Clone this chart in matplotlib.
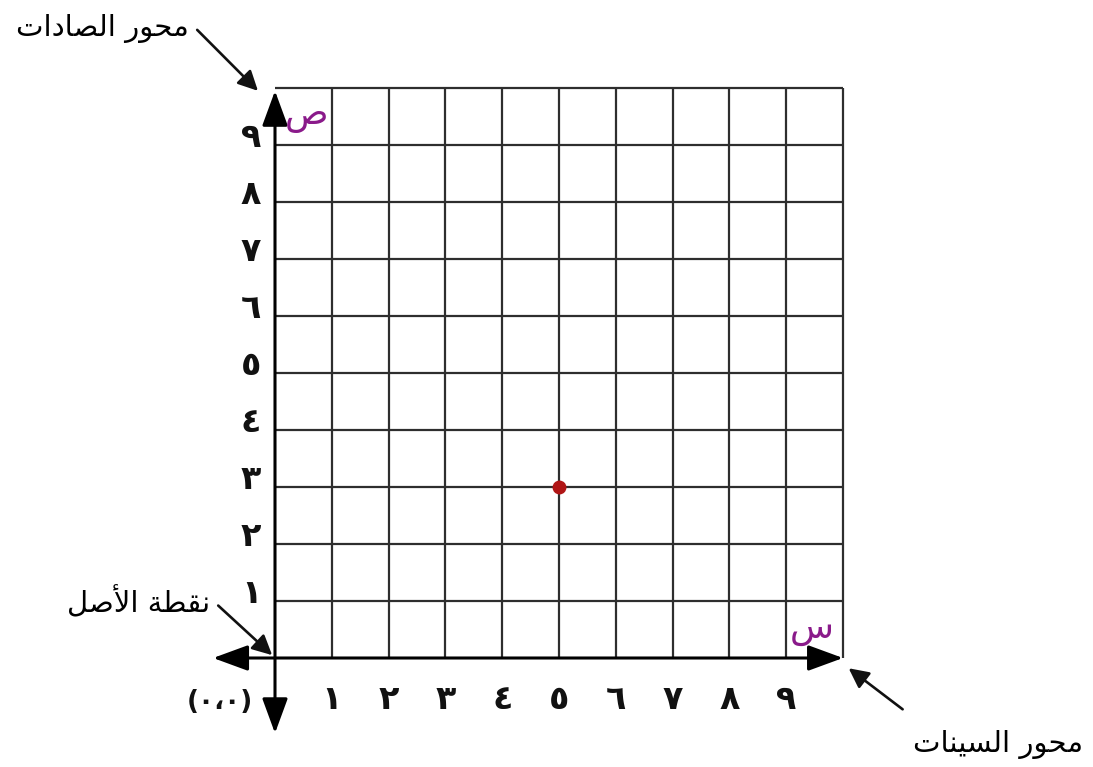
"""
Coordinate grid with the point (5, 3)
"""
import matplotlib
matplotlib.use('Agg')
import matplotlib.pyplot as plt
from matplotlib.patches import ArrowStyle

# grid size and tick labels (Eastern Arabic digits)
n_cells = 10
x_ticks = [1, 2, 3, 4, 5, 6, 7, 8, 9]
y_ticks = [1, 2, 3, 4, 5, 6, 7, 8, 9]
digit_labels = ['١', '٢', '٣', '٤', '٥', '٦', '٧', '٨', '٩']
origin_label = '(٠،٠)'

# the plotted point
point_x = [5]
point_y = [3]

# annotations
y_axis_name = 'محور الصادات'
x_axis_name = 'محور السينات'
origin_name = 'نقطة الأصل'
y_letter = 'ص'
x_letter = 'س'

# presentation forms: isolated, final, (initial, medial)
FORMS = {
    'ا': (0xFE8D, 0xFE8E), 'أ': (0xFE83, 0xFE84), 'ة': (0xFE93, 0xFE94),
    'د': (0xFEA9, 0xFEAA), 'ر': (0xFEAD, 0xFEAE), 'و': (0xFEED, 0xFEEE),
    'ت': (0xFE95, 0xFE96, 0xFE97, 0xFE98), 'ح': (0xFEA1, 0xFEA2, 0xFEA3, 0xFEA4),
    'س': (0xFEB1, 0xFEB2, 0xFEB3, 0xFEB4), 'ص': (0xFEB9, 0xFEBA, 0xFEBB, 0xFEBC),
    'ط': (0xFEC1, 0xFEC2, 0xFEC3, 0xFEC4), 'ق': (0xFED5, 0xFED6, 0xFED7, 0xFED8),
    'ل': (0xFEDD, 0xFEDE, 0xFEDF, 0xFEE0), 'م': (0xFEE1, 0xFEE2, 0xFEE3, 0xFEE4),
    'ن': (0xFEE5, 0xFEE6, 0xFEE7, 0xFEE8), 'ي': (0xFEF1, 0xFEF2, 0xFEF3, 0xFEF4),
}
LAM_ALEF = {'ا': (0xFEFB, 0xFEFC), 'أ': (0xFEF7, 0xFEF8)}


def shape(text):
    # matplotlib has no arabic shaping, so join the letters by hand
    # and flip to visual order
    out = []
    prev_joins = False
    i = 0
    while i < len(text):
        ch = text[i]
        if ch == 'ل' and i + 1 < len(text) and text[i + 1] in LAM_ALEF:
            iso, fin = LAM_ALEF[text[i + 1]]
            out.append(chr(fin if prev_joins else iso))
            prev_joins = False
            i += 2
            continue
        forms = FORMS.get(ch)
        if forms is None:
            out.append(ch)
            prev_joins = False
            i += 1
            continue
        nxt = text[i + 1] if i + 1 < len(text) else ''
        next_ok = len(forms) == 4 and nxt in FORMS
        if prev_joins and next_ok:
            g = forms[3]
        elif prev_joins:
            g = forms[1]
        elif next_ok:
            g = forms[2]
        else:
            g = forms[0]
        out.append(chr(g))
        prev_joins = next_ok
        i += 1
    return ''.join(reversed(out))


plt.rcParams['font.family'] = ['DejaVu Sans']

fig = plt.figure(figsize=(10.93, 7.67), dpi=100)
ax = fig.add_axes([0, 0, 1, 1])
# pixel layout: x 0..10 -> 275..843 px, y 0..10 -> 658..88 px
sx, sy = 56.8, 57.0
ax.set_xlim(-275 / sx, (1093 - 275) / sx)
ax.set_ylim(-(767 - 658) / sy, 658 / sy)
ax.axis('off')

grid_color = '#2e2e2e'
cells = list(range(1, n_cells + 1))
ax.vlines(cells, 0, n_cells, color=grid_color, lw=1.6, zorder=1)
ax.hlines(cells, 0, n_cells, color=grid_color, lw=1.6, zorder=1)

# axes with arrow heads at both ends
axis_style = ArrowStyle('<|-|>', head_length=0.6, head_width=0.22)
ax.annotate('', xy=(n_cells, 0), xytext=(-1.09, 0),
            arrowprops=dict(arrowstyle=axis_style, mutation_scale=36, lw=2.2,
                            color='black', shrinkA=0, shrinkB=0), zorder=3)
ax.annotate('', xy=(0, n_cells - 0.05), xytext=(0, -1.32),
            arrowprops=dict(arrowstyle=axis_style, mutation_scale=36, lw=2.2,
                            color='black', shrinkA=0, shrinkB=0), zorder=3)

# tick labels
for x, lab in zip(x_ticks, digit_labels):
    ax.text(x, -0.72, lab, ha='center', va='center', fontsize=24,
            fontweight='bold', color='#111111')
for y, lab in zip(y_ticks, digit_labels):
    ax.text(-0.42, y + 0.14, lab, ha='center', va='center', fontsize=24,
            fontweight='bold', color='#111111')
ax.text(-0.97, -0.78, origin_label, ha='center', va='center', fontsize=19,
        fontweight='bold', color='#111111')

# axis letters
ax.text(0.55, 9.5, shape(y_letter), ha='center', va='center', fontsize=26,
        color='#8a1a8a')
ax.text(9.45, 0.5, shape(x_letter), ha='center', va='center', fontsize=26,
        color='#8a1a8a')

# the point
ax.plot(point_x, point_y, 'o', color='#b01515', ms=9, zorder=4)

# pointer labels
pointer = dict(arrowstyle='-|>', mutation_scale=30, lw=1.9, color='#111111',
               shrinkA=0, shrinkB=0)
ax.annotate('', xy=(-0.3, 9.95), xytext=(-1.37, 11.02), arrowprops=pointer)
ax.text(-1.52, 11.05, shape(y_axis_name), ha='right', va='center', fontsize=21)
ax.annotate('', xy=(-0.05, 0.05), xytext=(-1.0, 0.92), arrowprops=pointer)
ax.text(-1.15, 0.98, shape(origin_name), ha='right', va='center', fontsize=21)
ax.annotate('', xy=(10.1, -0.18), xytext=(11.05, -0.9), arrowprops=pointer)
ax.text(14.22, -1.51, shape(x_axis_name), ha='right', va='center', fontsize=21)

fig.savefig('out.png', dpi=100)
